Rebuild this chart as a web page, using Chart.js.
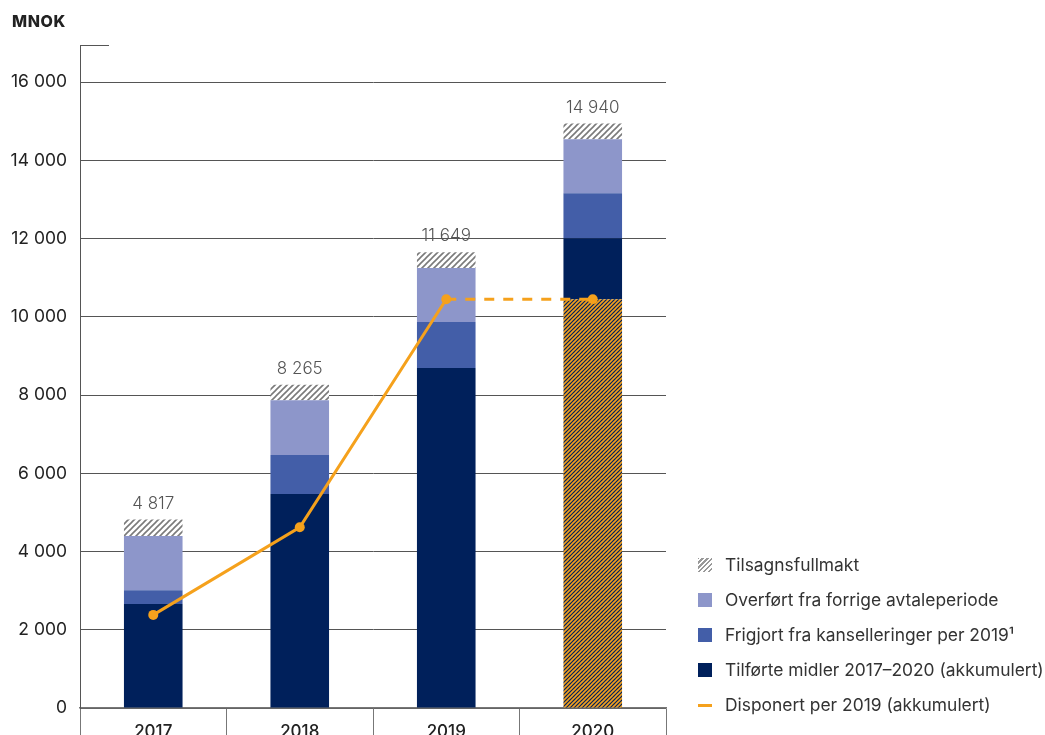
<!DOCTYPE html>
<html lang="no">
<head>
<meta charset="utf-8">
<title>MNOK</title>
<script src="https://cdn.jsdelivr.net/npm/chart.js@4/dist/chart.umd.min.js"></script>
<style>
  html, body { margin: 0; padding: 0; background: #fff; overflow: hidden; }
  #wrap { position: relative; width: 1045px; height: 735px; overflow: hidden; }
  #legend { position: absolute; left: 697px; top: 554px; margin: 0; padding: 0; list-style: none;
            font-family: Inter, "Noto Sans", sans-serif; font-size: 17.4px; color: #333; }
  #legend li { height: 35px; display: flex; align-items: flex-start; white-space: nowrap; }
  #legend .box { width: 14px; height: 14px; margin: 4px 13px 0 1px; flex: none; }
  #legend .dash { width: 14px; height: 3px; margin: 10px 13px 0 1px; flex: none; }
</style>
</head>
<body>
<div id="wrap">
  <canvas id="chart" width="1045" height="760"></canvas>
  <ul id="legend"></ul>
</div>
<script>
(function () {
    "use strict";

    const years = ["2017", "2018", "2019", "2020"];
    const tilforte = [2660, 5470, 8690, 12010];
    const frigjort = [350, 1000, 1180, 1150];
    const overfort = [1390, 1400, 1380, 1380];
    const tilsagn = [417, 395, 399, 400];
    const disponert = [2380, 4620, 10450, 10450];
    const yTicks = [0, 2000, 4000, 6000, 8000, 10000, 12000, 14000, 16000];

    const navy = "#00205b";
    const blue = "#435ea8";
    const lilac = "#8d96ca";
    const orange = "#f5a11c";

    const fmt = (v) => String(v).replace(/\B(?=(\d{3})+(?!\d))/g, " ");

    // Diagonal hatch fill
    const hatch = (bg, fg, size, width) => {
        const c = document.createElement("canvas");
        c.width = size;
        c.height = size;
        const g = c.getContext("2d");
        g.fillStyle = bg;
        g.fillRect(0, 0, size, size);
        g.strokeStyle = fg;
        g.lineWidth = width;
        g.beginPath();
        g.moveTo(-1, size + 1);
        g.lineTo(size + 1, -1);
        g.moveTo(-1, 1);
        g.lineTo(1, -1);
        g.moveTo(size - 1, size + 1);
        g.lineTo(size + 1, size - 1);
        g.stroke();
        return g.createPattern(c, "repeat");
    };
    const grayHatch = hatch("#ffffff", "#7a7a7a", 6, 1.6);
    const orangeHatch = hatch(navy, orange, 4, 1.6);

    // 2020: the part already disposed is hatched on top of the navy bar
    const last = years.length - 1;
    const hatchedPart = years.map((y, i) => (i === last ? disponert[i] : 0));
    const navyPart = tilforte.map((v, i) => v - hatchedPart[i]);
    const totals = years.map((y, i) => tilforte[i] + frigjort[i] + overfort[i] + tilsagn[i]);

    const font = "Inter, 'Noto Sans', sans-serif";

    const extras = {
        id: "extras",
        afterDraw(chart) {
            const { ctx, chartArea, scales } = chart;
            ctx.save();
            // short cap on top of the y axis
            ctx.strokeStyle = "#555";
            ctx.lineWidth = 1;
            ctx.beginPath();
            ctx.moveTo(chartArea.left, chartArea.top + 0.5);
            ctx.lineTo(chartArea.left + 29, chartArea.top + 0.5);
            ctx.stroke();
            // unit
            ctx.fillStyle = "#222";
            ctx.font = "800 16px " + font;
            ctx.letterSpacing = "0.6px";
            ctx.textBaseline = "alphabetic";
            ctx.textAlign = "left";
            ctx.fillText("MNOK", 12, 27);
            ctx.letterSpacing = "0px";
            // year labels inside the tick compartments under the axis
            ctx.fillStyle = "#222";
            ctx.font = "500 17px " + font;
            ctx.textAlign = "center";
            years.forEach((y, i) => {
                ctx.fillText(y, scales.x.getPixelForValue(i), chartArea.bottom + 29);
            });
            // totals above the bars
            ctx.fillStyle = "#555";
            ctx.font = "300 17px " + font;
            totals.forEach((t, i) => {
                const x = scales.x.getPixelForValue(i);
                const y = scales.y.getPixelForValue(t);
                ctx.fillText(fmt(t), x, y - 11);
            });
            ctx.restore();
        },
    };

    const bar = (label, data, color) => ({
        type: "bar",
        label,
        data,
        backgroundColor: color,
        borderWidth: 0,
        order: 1,
        stack: "bars",
    });

    new Chart(document.getElementById("chart"), {
        data: {
            labels: years,
            datasets: [
                bar("Disponert 2020", hatchedPart, orangeHatch),
                bar("Tilførte midler 2017–2020 (akkumulert)", navyPart, navy),
                bar("Frigjort fra kanselleringer per 2019¹", frigjort, blue),
                bar("Overført fra forrige avtaleperiode", overfort, lilac),
                bar("Tilsagnsfullmakt", tilsagn, grayHatch),
                {
                    type: "line",
                    label: "Disponert per 2019 (akkumulert)",
                    data: disponert,
                    borderColor: orange,
                    backgroundColor: orange,
                    borderWidth: 3,
                    pointRadius: 5,
                    pointHoverRadius: 5,
                    pointBorderWidth: 0,
                    tension: 0,
                    order: 0,
                    stack: "line",
                    segment: {
                        borderDash: (c) => (c.p0DataIndex === 2 ? [10, 9] : undefined),
                    },
                },
            ],
        },
        options: {
            responsive: false,
            animation: false,
            devicePixelRatio: 1,
            layout: { padding: { left: 0, top: 45, right: 379, bottom: 22 } },
            datasets: {
                bar: { categoryPercentage: 1, barPercentage: 0.4 },
            },
            plugins: {
                legend: { display: false },
                tooltip: { enabled: false },
            },
            scales: {
                x: {
                    stacked: true,
                    offset: true,
                    grid: {
                        offset: true,
                        drawOnChartArea: false,
                        drawTicks: true,
                        tickLength: 30,
                        color: "#777",
                    },
                    border: { color: "#777", width: 1.5 },
                    ticks: { display: false },
                },
                y: {
                    stacked: true,
                    min: 0,
                    max: 16950,
                    afterBuildTicks: (scale) => {
                        scale.ticks = yTicks.map((v) => ({ value: v }));
                    },
                    afterFit: (scale) => {
                        scale.width = 80;
                    },
                    grid: { drawTicks: false, color: "#555", lineWidth: 1 },
                    border: { color: "#555", width: 1 },
                    ticks: {
                        padding: 13,
                        color: "#222",
                        font: { family: font, size: 17.5 },
                        callback: (v) => fmt(v),
                    },
                },
            },
        },
        plugins: [extras],
    });

    // Legend, top to bottom in reverse stacking order
    const legend = document.getElementById("legend");
    const items = [
        { text: "Tilsagnsfullmakt", css: "background: repeating-linear-gradient(-45deg, #fff 0 1.8px, #999 1.8px 3.4px);" },
        { text: "Overført fra forrige avtaleperiode", css: "background:" + lilac },
        { text: "Frigjort fra kanselleringer per 2019¹", css: "background:" + blue },
        { text: "Tilførte midler 2017–2020 (akkumulert)", css: "background:" + navy },
        { text: "Disponert per 2019 (akkumulert)", css: "background:" + orange, line: true },
    ];
    items.forEach((it) => {
        const li = document.createElement("li");
        const sw = document.createElement("span");
        sw.className = it.line ? "dash" : "box";
        sw.style.cssText = it.css;
        li.appendChild(sw);
        li.appendChild(document.createTextNode(it.text));
        legend.appendChild(li);
    });
})();
</script>
</body>
</html>
